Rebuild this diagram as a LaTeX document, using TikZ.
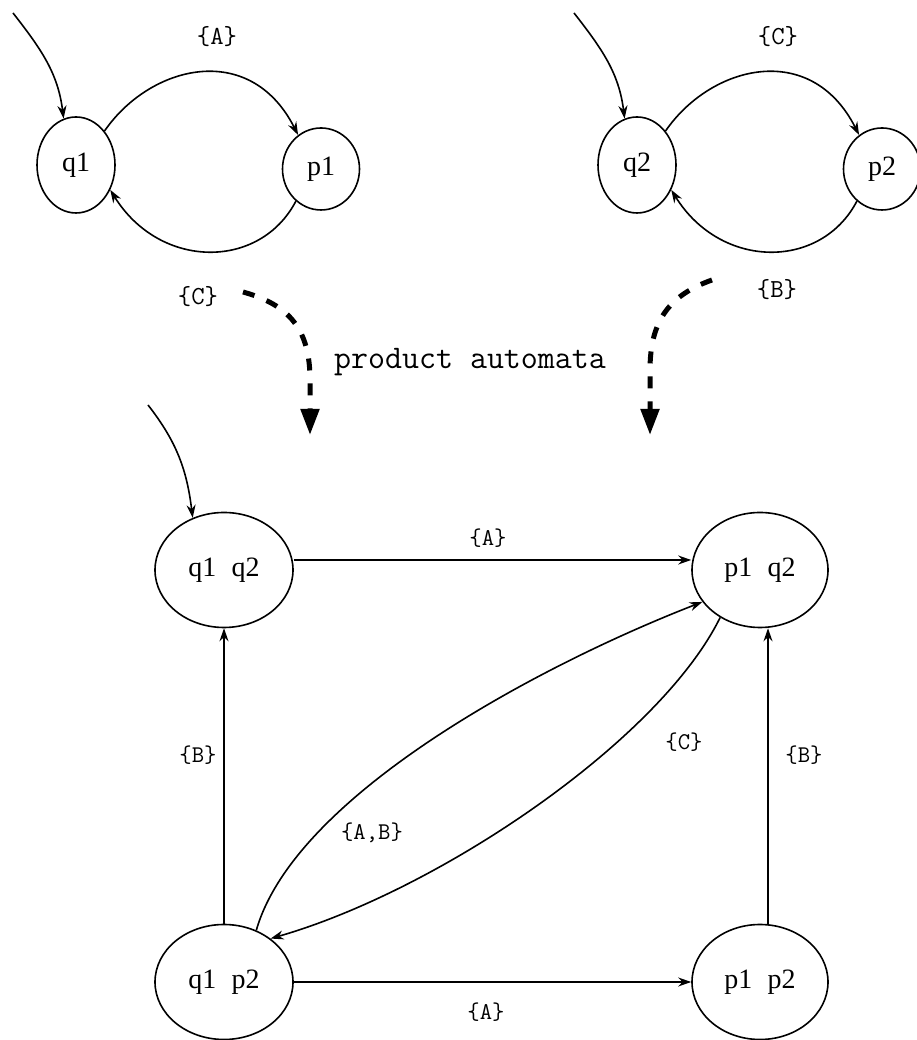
\documentclass[tikz,border=0pt]{standalone}
\usepackage{fontspec}
\setmainfont{Liberation Serif}
\usetikzlibrary{arrows.meta,shapes.geometric}
\begin{document}
\begin{tikzpicture}[x=1pt,y=1pt,
  st/.style={draw, ellipse, inner sep=0pt, line width=1.6pt, font=\fontsize{28}{30}\selectfont},
  lbl/.style={font=\ttfamily\fontsize{26}{28}\selectfont, inner sep=1pt},
  slbl/.style={font=\ttfamily\fontsize{24}{26}\selectfont, inner sep=1pt},
  tr/.style={line width=1.6pt, -{Stealth[length=13pt,width=9pt]}},
  big/.style={line width=5pt, dash pattern=on 12pt off 13pt, -{Triangle[length=26pt,width=18pt]}}]
\useasboundingbox (0,0) rectangle (916,1040);

% top-left automaton
\node[st, minimum width=78pt, minimum height=96pt] (q1) at (76,875) {q1};
\node[st, minimum width=77pt, minimum height=82pt] (p1) at (321,871) {p1};
\coordinate (i1) at (13,1027);
\draw[tr] (i1) to[out=-52, in=97] (q1.105);
\draw[tr] (q1.50) .. controls (150,975) and (250,1000) .. (p1.124);
\draw[tr] (p1.232) .. controls (260,770) and (160,770) .. (q1.324);
\node[lbl] (la1) at (217,1003) {\{A\}};
\node[lbl] (lc1) at (198,743) {\{C\}};

% top-right automaton
\node[st, minimum width=78pt, minimum height=96pt] (q2) at (637,875) {q2};
\node[st, minimum width=77pt, minimum height=82pt] (p2) at (882,871) {p2};
\coordinate (i2) at (574,1027);
\draw[tr] (i2) to[out=-52, in=97] (q2.105);
\draw[tr] (q2.50) .. controls (711,975) and (811,1000) .. (p2.124);
\draw[tr] (p2.232) .. controls (821,770) and (721,770) .. (q2.324);
\node[lbl] (lc2) at (778,1003) {\{C\}};
\node[lbl] (lb2) at (777,750) {\{B\}};

% product arrows
\coordinate (d1s) at (243,748);
\coordinate (d1e) at (310,605);
\coordinate (d2s) at (712,760);
\coordinate (d2e) at (650,605);
\draw[big] (d1s) .. controls (290,735) and (310,710) .. (310,660) -- (d1e);
\draw[big] (d2s) .. controls (670,745) and (650,720) .. (650,670) -- (d2e);
\node[font=\ttfamily\fontsize{33}{35}\selectfont] (pa) at (470,678) {product automata};

% product automaton
\node[st, minimum width=138pt, minimum height=115pt] (qq) at (224,470) {q1\hspace{0.55em}q2};
\node[st, minimum width=136pt, minimum height=115pt] (pq) at (760,470) {p1\hspace{0.55em}q2};
\node[st, minimum width=138pt, minimum height=115pt] (qp) at (224,58) {q1\hspace{0.55em}p2};
\node[st, minimum width=136pt, minimum height=115pt] (pp) at (760,58) {p1\hspace{0.55em}p2};
\coordinate (i3) at (148,635);
\draw[tr] (i3) to[out=-52, in=97] (qq.121);

\draw[tr] ([yshift=10pt]qq.east) -- ([yshift=10pt]pq.west);
\draw[tr] (qp.east) -- (pp.west);
\draw[tr] (qp.north) -- (qq.south);
\draw[tr] ([xshift=8pt]pp.north) -- ([xshift=8pt]pq.south);
\draw[tr] (qp.58) .. controls (295,245) and (540,375) .. (pq.209);
\draw[tr] (pq.230) .. controls (660,300) and (440,150) .. (qp.43);

\node[slbl] (l1) at (488,502) {\{A\}};
\node[slbl] (l2) at (198,285) {\{B\}};
\node[slbl] (l3) at (804,285) {\{B\}};
\node[slbl] (l4) at (372,207) {\{A,B\}};
\node[slbl] (l5) at (684,298) {\{C\}};
\node[slbl] (l6) at (486,28) {\{A\}};
\end{tikzpicture}
\end{document}
